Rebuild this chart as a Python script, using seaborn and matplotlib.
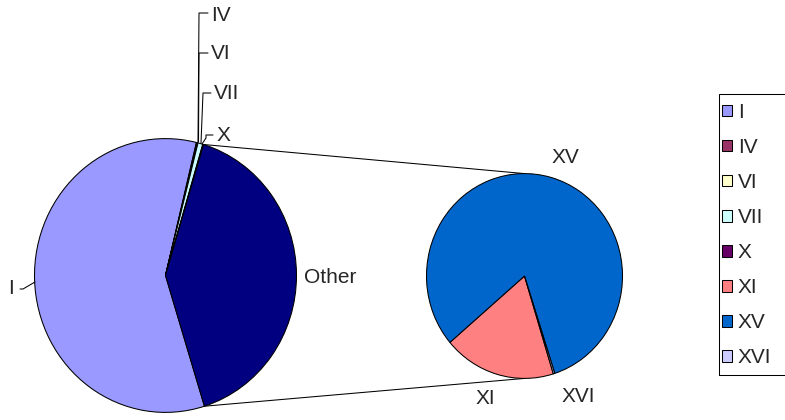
import matplotlib
matplotlib.use("Agg")
import matplotlib.pyplot as plt
from matplotlib.patches import Patch, Rectangle
import numpy as np
import seaborn as sns

# Shares of the whole (percent)
main_labels = ["I", "IV", "VI", "VII", "X"]
main_values = [58.6, 0.1, 0.1, 0.6, 0.1]
sub_labels = ["XI", "XV", "XVI"]
sub_values = [7.5, 32.9, 0.1]
legend_labels = ["I", "IV", "VI", "VII", "X", "XI", "XV", "XVI"]

palette = {
    "I": "#9999FF", "IV": "#993366", "VI": "#FFFFCC", "VII": "#CCFFFF",
    "X": "#660066", "XI": "#FF8080", "XV": "#0066CC", "XVI": "#CCCCFF",
    "Other": "#000080",
}

sns.set_style("white")
plt.rcParams["font.family"] = ["Liberation Sans", "DejaVu Sans"]
FS = 15

W, H = 785, 420
YS = 1.045  # vertical stretch of the drawing


def P(x, y):
    """Canvas position (pixels from top-left) -> axes data."""
    return (x, (H - y) / YS)


fig = plt.figure(figsize=(W / 100, H / 100), dpi=100)
ax = fig.add_axes([0, 0, 1, 1])

edge = dict(edgecolor="black", linewidth=0.75)

# Main pie with the aggregated "Other" slice
other_total = sum(sub_values)
main_all = main_values + [other_total]
main_colors = [palette[k] for k in main_labels] + [palette["Other"]]
c1 = P(165.5, 275.5)
r1 = 131
start1 = 287.3
ax.pie(main_all, colors=main_colors, startangle=start1, counterclock=False,
       center=c1, radius=r1, wedgeprops=edge, frame=True)

# Secondary pie breaking down "Other"
c2 = P(524.5, 276.0)
r2 = 98
ax.pie(sub_values, colors=[palette[k] for k in sub_labels], startangle=287.1,
       counterclock=False, center=c2, radius=r2, wedgeprops=edge, frame=True)

ax.set_aspect("auto")
ax.set_xlim(0, W)
ax.set_ylim(0, H / YS)
ax.axis("off")

# Connector lines from the "Other" slice to the secondary pie
a_top = np.deg2rad(start1 - 360 * sum(main_values) / sum(main_all))
a_bot = np.deg2rad(start1)
p_top = (c1[0] + r1 * np.cos(a_top), c1[1] + r1 * np.sin(a_top))
p_bot = (c1[0] + r1 * np.cos(a_bot), c1[1] + r1 * np.sin(a_bot))
ax.plot([p_top[0], c2[0]], [p_top[1], c2[1] + r2], color="black", lw=0.75, zorder=0)
ax.plot([p_bot[0], c2[0]], [p_bot[1], c2[1] - r2], color="black", lw=0.75, zorder=0)


def leader(points):
    xs, ys_ = zip(*[P(*p) for p in points])
    ax.plot(xs, ys_, color="black", lw=0.75)


def label(text, x, y, ha="left"):
    ax.text(*P(x, y), text, fontsize=FS, ha=ha, va="center")


# Data labels
label("I", 11, 288, ha="center")
leader([(20, 289), (23, 289), (35, 282)])
label("Other", 304, 277)
label("XV", 565, 157, ha="center")
label("XI", 485, 398, ha="center")
label("XVI", 578, 397, ha="center")

label("IV", 211, 15)
leader([(208, 13), (199, 13), (198, 142)])
label("VI", 211, 53)
leader([(208, 53), (199, 53), (198.5, 142)])
label("VII", 214, 93)
leader([(211, 93), (203, 93), (201, 143)])
label("X", 217, 135)
leader([(213, 135), (206, 135), (206, 138), (202, 144)])

# Legend
handles = [Patch(facecolor=palette[k], **edge) for k in legend_labels]
fig.legend(handles, legend_labels, loc="center left",
           bbox_to_anchor=(722 / W, 1 - 235 / H), frameon=False,
           fontsize=FS, handlelength=0.5, handleheight=0.5,
           handletextpad=0.25, labelspacing=0.77, borderpad=0,
           borderaxespad=0)
x0, y0 = P(719, 375)
ax.add_patch(Rectangle((x0, y0), 120, (375 - 94) / YS, fill=False,
                       edgecolor="black", linewidth=0.75, clip_on=False))

fig.savefig("out.png", dpi=100)
